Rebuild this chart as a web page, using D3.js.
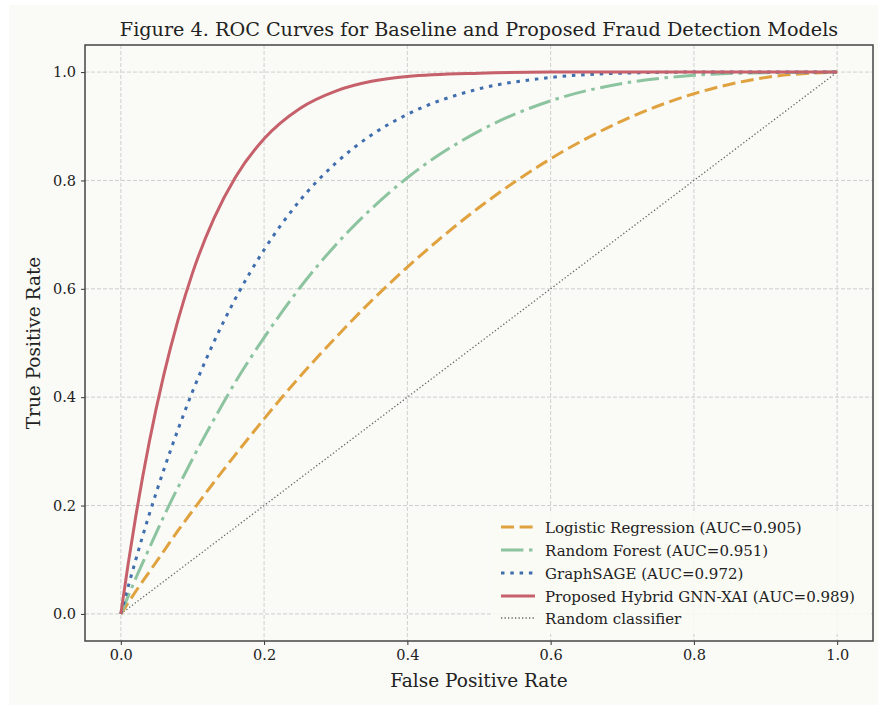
<!DOCTYPE html>
<html>
<head>
<meta charset="utf-8">
<script src="https://cdn.jsdelivr.net/npm/d3@7"></script>
<style>
  html, body { margin: 0; padding: 0; background: #ffffff; }
  svg { display: block; }
  text { font-family: "DejaVu Serif", serif; fill: #222; }
</style>
</head>
<body>
<div id="chart"></div>
<script>
// false positive rate sample points
let fpr = [0, 0.01, 0.02, 0.04, 0.06, 0.08, 0.10, 0.13, 0.16, 0.20, 0.25, 0.30, 0.35, 0.40, 0.50, 0.60, 0.70, 0.80, 0.90, 1.0];

let tprLogistic = [0, 0.020, 0.040, 0.078, 0.116, 0.154, 0.190, 0.243, 0.294, 0.360, 0.438, 0.510, 0.578, 0.640, 0.750, 0.840, 0.910, 0.960, 0.990, 1.0];
let tprForest   = [0, 0.032, 0.063, 0.122, 0.180, 0.234, 0.286, 0.359, 0.428, 0.510, 0.602, 0.681, 0.748, 0.805, 0.891, 0.947, 0.979, 0.994, 0.999, 1.0];
let tprSage     = [0, 0.049, 0.096, 0.185, 0.266, 0.341, 0.410, 0.502, 0.582, 0.672, 0.763, 0.832, 0.884, 0.922, 0.969, 0.990, 0.998, 1.0, 1.0, 1.0];
let tprHybrid   = [0, 0.090, 0.173, 0.319, 0.441, 0.543, 0.629, 0.730, 0.806, 0.877, 0.933, 0.965, 0.983, 0.992, 0.998, 1.0, 1.0, 1.0, 1.0, 1.0];

let seriesNames = [
  "Logistic Regression (AUC=0.905)",
  "Random Forest (AUC=0.951)",
  "GraphSAGE (AUC=0.972)",
  "Proposed Hybrid GNN-XAI (AUC=0.989)"
];
let randomName = "Random classifier";
let ticks = [0.0, 0.2, 0.4, 0.6, 0.8, 1.0];

var width = 878, height = 705;
var plot = { left: 85, right: 873, top: 45, bottom: 641 };

var styles = [
  { color: "#e0a23f", dash: "13,5.6", width: 3 },
  { color: "#8cc4a0", dash: "22.4,5.6,3.5,5.6", width: 3 },
  { color: "#3f6eae", dash: "3.5,5.8", width: 3 },
  { color: "#c6606a", dash: null, width: 3 }
];

var svg = d3.select("#chart")
  .append("svg")
    .attr("width", width)
    .attr("height", height);

// figure background
svg.append("rect")
  .attr("x", 9).attr("y", 5)
  .attr("width", width - 9).attr("height", height - 5)
  .attr("fill", "#fafaf6");

var x = d3.scaleLinear().domain([-0.05, 1.05]).range([plot.left, plot.right]);
var y = d3.scaleLinear().domain([-0.05, 1.05]).range([plot.bottom, plot.top]);

// grid
var grid = svg.append("g");
grid.selectAll(".vg").data(ticks).enter().append("line")
  .attr("x1", d => x(d)).attr("x2", d => x(d))
  .attr("y1", plot.top).attr("y2", plot.bottom)
  .attr("stroke", "#cfcfcf").attr("stroke-width", 1)
  .attr("stroke-dasharray", "4,2");
grid.selectAll(".hg").data(ticks).enter().append("line")
  .attr("y1", d => y(d)).attr("y2", d => y(d))
  .attr("x1", plot.left).attr("x2", plot.right)
  .attr("stroke", "#cfcfcf").attr("stroke-width", 1)
  .attr("stroke-dasharray", "4,2");

svg.append("clipPath").attr("id", "clip")
  .append("rect")
    .attr("x", plot.left).attr("y", plot.top)
    .attr("width", plot.right - plot.left).attr("height", plot.bottom - plot.top);

var curves = svg.append("g").attr("clip-path", "url(#clip)");

// random classifier diagonal
curves.append("path")
  .datum([[0, 0], [1, 1]])
  .attr("d", d3.line().x(d => x(d[0])).y(d => y(d[1])))
  .attr("fill", "none")
  .attr("stroke", "#666")
  .attr("stroke-width", 1.3)
  .attr("stroke-dasharray", "1.3,2.2");

var allTpr = [tprLogistic, tprForest, tprSage, tprHybrid];
var line = d3.line()
  .x(d => x(d[0]))
  .y(d => y(d[1]))
  .curve(d3.curveMonotoneX);

allTpr.forEach(function (tpr, i) {
  let pts = fpr.map((f, j) => [f, tpr[j]]);
  curves.append("path")
    .datum(pts)
    .attr("d", line)
    .attr("fill", "none")
    .attr("stroke", styles[i].color)
    .attr("stroke-width", styles[i].width)
    .attr("stroke-dasharray", styles[i].dash);
});

// axes
var xAxis = d3.axisBottom(x).tickValues(ticks).tickFormat(d3.format(".1f")).tickSize(4).tickPadding(5);
var yAxis = d3.axisLeft(y).tickValues(ticks).tickFormat(d3.format(".1f")).tickSize(4).tickPadding(5);

var gx = svg.append("g").attr("transform", "translate(0," + plot.bottom + ")").call(xAxis);
var gy = svg.append("g").attr("transform", "translate(" + plot.left + ",0)").call(yAxis);
[gx, gy].forEach(function (g) {
  g.select(".domain").remove();
  g.selectAll(".tick line").attr("stroke", "#333").attr("stroke-width", 1);
  g.selectAll(".tick text")
    .style("font-family", "DejaVu Serif")
    .style("font-size", "14.5px")
    .attr("fill", "#222");
});

// frame
svg.append("rect")
  .attr("x", plot.left).attr("y", plot.top)
  .attr("width", plot.right - plot.left).attr("height", plot.bottom - plot.top)
  .attr("fill", "none")
  .attr("stroke", "#444")
  .attr("stroke-width", 1.5);

// legend
var legend = svg.append("g");
legend.append("rect")
  .attr("x", 492).attr("y", 512)
  .attr("width", 378).attr("height", 122)
  .attr("fill", "#fafaf6")
  .attr("opacity", 0.85);

var rowY = [527, 550, 573, 596, 618];
seriesNames.forEach(function (name, i) {
  legend.append("line")
    .attr("x1", 501).attr("x2", 535)
    .attr("y1", rowY[i]).attr("y2", rowY[i])
    .attr("stroke", styles[i].color)
    .attr("stroke-width", styles[i].width)
    .attr("stroke-dasharray", styles[i].dash);
  legend.append("text")
    .attr("x", 545).attr("y", rowY[i] + 5.5)
    .style("font-size", "15px")
    .text(name);
});
legend.append("line")
  .attr("x1", 501).attr("x2", 535)
  .attr("y1", rowY[4]).attr("y2", rowY[4])
  .attr("stroke", "#666")
  .attr("stroke-width", 1.3)
  .attr("stroke-dasharray", "1.3,2.2");
legend.append("text")
  .attr("x", 545).attr("y", rowY[4] + 5.5)
  .style("font-size", "15px")
  .text(randomName);

// labels
svg.append("text")
  .attr("x", (plot.left + plot.right) / 2).attr("y", 687)
  .attr("text-anchor", "middle")
  .style("font-size", "18.5px")
  .text("False Positive Rate");

svg.append("text")
  .attr("transform", "translate(40," + (plot.top + plot.bottom) / 2 + ") rotate(-90)")
  .attr("text-anchor", "middle")
  .style("font-size", "18.5px")
  .text("True Positive Rate");

svg.append("text")
  .attr("x", (plot.left + plot.right) / 2).attr("y", 36)
  .attr("text-anchor", "middle")
  .style("font-size", "19.2px")
  .text("Figure 4. ROC Curves for Baseline and Proposed Fraud Detection Models");
</script>
</body>
</html>
